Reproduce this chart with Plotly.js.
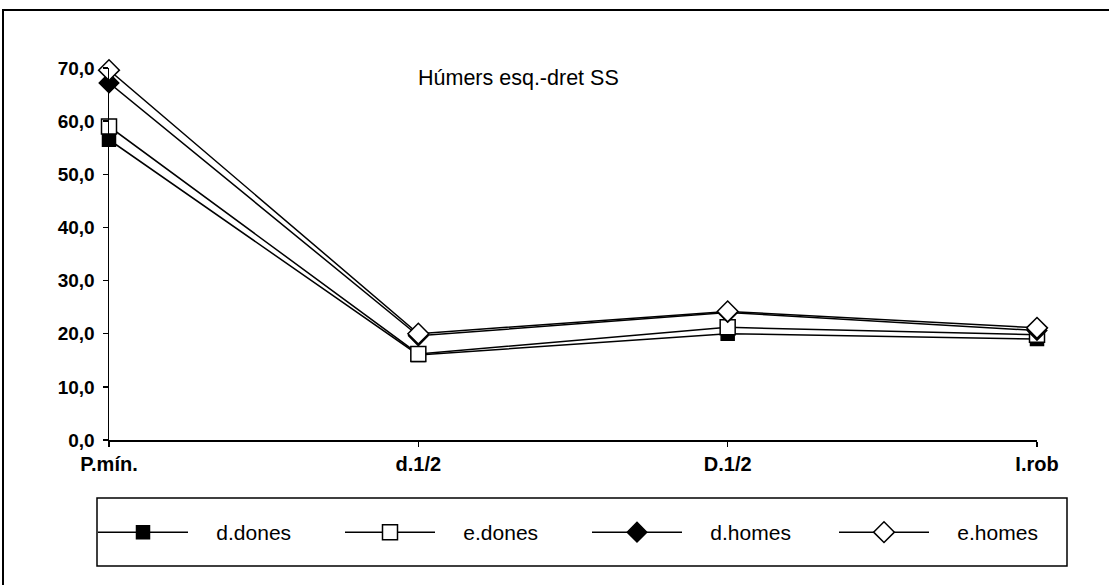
<!DOCTYPE html>
<html>
<head>
<meta charset="utf-8">
<script src="https://cdn.plot.ly/plotly-3.0.1.min.js"></script>
<style>html,body{margin:0;padding:0;background:#fff;}#chart{width:1109px;height:585px;}</style>
</head>
<body>
<div id="chart"></div>
<script>
const categories = ["P.mín.", "d.1/2", "D.1/2", "I.rob"];
const dDones = [56.5, 16.0, 20.0, 19.0];
const eDones = [59.0, 16.2, 21.2, 19.8];
const dHomes = [67.2, 19.6, 24.0, 20.6];
const eHomes = [69.6, 20.0, 24.2, 21.1];
const seriesNames = ["d.dones", "e.dones", "d.homes", "e.homes"];
const chartTitle = "Húmers esq.-dret SS";

const FONT = "Liberation Sans, Arial, sans-serif";
const styles = [
  {symbol: "square", fill: "#000000", size: 13},
  {symbol: "square", fill: "#ffffff", size: 15},
  {symbol: "diamond", fill: "#000000", size: 15},
  {symbol: "diamond", fill: "#ffffff", size: 16}
];
const series = [dDones, eDones, dHomes, eHomes];
const PAD = "\u00a0\u00a0\u00a0\u00a0";

const traces = series.map((vals, i) => ({
  type: "scatter",
  mode: "lines+markers",
  name: PAD + seriesNames[i],
  x: categories,
  y: vals,
  cliponaxis: false,
  line: {color: "#000000", width: 1.5},
  marker: {symbol: styles[i].symbol, size: styles[i].size, color: styles[i].fill,
           line: {color: "#000000", width: 1.5}}
}));

const W = 1109, H = 585;
const L = 109, R = 72, T = 68, B = 145;
const pw = W - L - R, ph = H - T - B;
const px = v => (v - L) / pw;
const py = v => (H - B - v) / ph;

const layout = {
  width: W, height: H,
  margin: {l: L, r: R, t: T, b: B, pad: 0},
  paper_bgcolor: "#ffffff",
  plot_bgcolor: "#ffffff",
  separators: ", ",
  font: {family: FONT, size: 20, color: "#000000"},
  showlegend: true,
  xaxis: {
    type: "category",
    range: [0, 3],
    showgrid: false, zeroline: false,
    showline: true, linecolor: "#000000", linewidth: 1.5,
    ticks: "outside", ticklen: 5, tickcolor: "#000000", tickwidth: 1.5,
    ticklabelstandoff: 0,
    tickfont: {family: FONT, size: 20, color: "#000000", weight: "bold"},
    fixedrange: true
  },
  yaxis: {
    range: [0, 70],
    dtick: 10,
    tickformat: ".1f",
    showgrid: false, zeroline: false,
    showline: true, linecolor: "#000000", linewidth: 1.5,
    ticks: "outside", ticklen: 5, tickcolor: "#000000", tickwidth: 1.5,
    ticklabelstandoff: 4,
    tickfont: {family: FONT, size: 19, color: "#000000", weight: "bold"},
    fixedrange: true
  },
  legend: {
    orientation: "h",
    x: px(93), y: py(512),
    xanchor: "left", yanchor: "top",
    bgcolor: "rgba(0,0,0,0)",
    borderwidth: 0,
    itemwidth: 90,
    entrywidth: 142,
    font: {family: FONT, size: 21, color: "#000000"},
    itemclick: false, itemdoubleclick: false
  },
  annotations: [{
    text: chartTitle,
    xref: "paper", yref: "paper",
    x: px(518), y: py(78),
    xanchor: "center", yanchor: "middle",
    showarrow: false,
    font: {family: FONT, size: 21.5, color: "#000000"}
  }],
  shapes: [
    {type: "rect", xref: "paper", yref: "paper",
     x0: px(3), x1: px(1115), y0: py(592), y1: py(10),
     line: {color: "#000000", width: 2}, fillcolor: "rgba(0,0,0,0)", layer: "below"},
    {type: "rect", xref: "paper", yref: "paper",
     x0: px(97), x1: px(1067), y0: py(566), y1: py(498),
     line: {color: "#000000", width: 1.5}, fillcolor: "rgba(0,0,0,0)", layer: "below"}
  ]
};

Plotly.newPlot("chart", traces, layout, {displayModeBar: false, staticPlot: true});
</script>
</body>
</html>
